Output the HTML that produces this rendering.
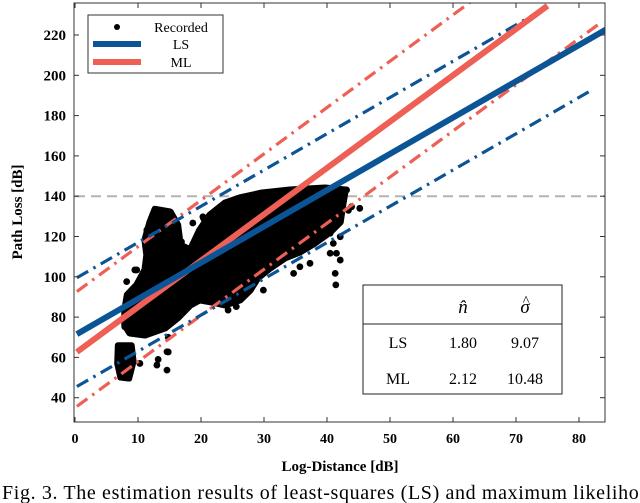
<!DOCTYPE html>
<html><head><meta charset="utf-8"><style>
html,body{margin:0;padding:0;background:#fff;}
svg{display:block;font-family:"Liberation Serif",serif;}
</style></head><body>
<svg id="chart" width="640" height="503" viewBox="0 0 640 503" xmlns="http://www.w3.org/2000/svg">
<defs><clipPath id="plotclip"><rect x="74" y="3" width="531" height="419"/></clipPath></defs>
<g id="plot" clip-path="url(#plotclip)"></g>
<g id="axes"></g>
<text x="340" y="471" text-anchor="middle" font-weight="bold" font-size="15">Log-Distance [dB]</text>
<text transform="translate(22,212) rotate(-90)" text-anchor="middle" font-weight="bold" font-size="15">Path Loss [dB]</text>
<g>
<rect x="88" y="15" width="135" height="58" fill="#fff" stroke="#333" stroke-width="1"/>
<circle cx="117" cy="27" r="3" fill="#000"/>
<text x="181" y="32" text-anchor="middle" font-size="14">Recorded</text>
<line x1="93" y1="44" x2="141" y2="44" stroke="#0b5597" stroke-width="6"/>
<text x="181" y="49" text-anchor="middle" font-size="14">LS</text>
<line x1="93" y1="62" x2="141" y2="62" stroke="#ee5f55" stroke-width="6"/>
<text x="181" y="67" text-anchor="middle" font-size="14">ML</text>
</g>
<g font-size="16">
<rect x="363" y="285" width="199" height="109" fill="#fff" stroke="#222" stroke-width="1"/>
<line x1="363" y1="324" x2="562" y2="324" stroke="#222" stroke-width="1"/>
<text x="463" y="313" text-anchor="middle" font-style="italic" font-size="19">n̂</text>
<text x="525" y="313" text-anchor="middle" font-style="italic" font-size="19">σ</text>
<text x="526" y="305" text-anchor="middle" font-size="14">^</text>
<text x="398" y="348" text-anchor="middle">LS</text>
<text x="463" y="348" text-anchor="middle">1.80</text>
<text x="525" y="348" text-anchor="middle">9.07</text>
<text x="398" y="384" text-anchor="middle">ML</text>
<text x="463" y="384" text-anchor="middle">2.12</text>
<text x="525" y="384" text-anchor="middle">10.48</text>
</g>
<text x="2" y="499" font-size="20" textLength="658" lengthAdjust="spacing">Fig. 3.  The estimation results of least-squares (LS) and maximum likelihood</text>
</svg>
<script>
const xTicks=[0,10,20,30,40,50,60,70,80];
const yTicks=[40,60,80,100,120,140,160,180,200,220];
// scatter: dense regions (polygons) and individual recorded points, data units
const coreCluster=[[12.7,133.5],[15.1,132.2],[16.3,125.7],[16.7,115.8],[18.3,113.3],[19.8,123.2],[21.4,130.6],[23.8,136.6],[26.2,139.2],[29.7,141.6],[34.1,143.1],[39.7,144.1],[42.9,143.1],[42.5,135.6],[42.1,127.2],[40.5,122.2],[38.1,116.8],[35.7,112.3],[33.3,109.3],[31,104.4],[29,99.4],[27.8,93.4],[26.2,88.5],[23.8,86],[21.7,87.5],[19.8,88.5],[18.3,86],[16.3,79.6],[14.3,74.6],[11.1,71.1],[8.7,72.1],[7.9,76.1],[7.9,83.5],[8.3,91],[9.8,95.9],[11.1,103.4],[11.4,110.8],[11.1,118.3],[11.9,127.2]];
const lowCluster=[[6.8,66],[9,66],[9.3,58],[8.6,49.5],[7.2,50],[6.7,57]];
const pointsX=[14.8,14.6,13,20.3,19.3,16.5,9.5,8.2,18.3,14.6,14.8,24.3,25.6,29.9,34.7,35.7,37.3,40.5,41.5,42.1,41.3,41.4,42.1,41,43.9,45.2,43.1,40.5,43.4,9.8,10.6,11.4,16.9,17,20.4,18.7,7.9,14.6,10.3,13.2];
const pointsY=[62.7,53.7,56.2,129.8,116.6,119.9,103.4,97.6,108.3,76.9,70,83.5,85.2,93.4,101.7,105,106.7,111.7,111.7,108.3,101.7,96,119.9,116.6,134.8,134,143.1,121.6,133,103.4,98,123.2,117.4,108,129,126.7,75.2,62.8,57,59];
// fitted lines: intercept, slope, x-extent
const lineNames=['ls-fit','ml-fit','ls-upper-bound','ls-lower-bound','ml-upper-bound','ml-lower-bound'];
const intercepts=[71,62,99,45,92,35];
const slopes=[1.80,2.30,1.80,1.80,2.30,2.29];
const xEnds=[84.3,75,75,82,75,83];
const refLevel=140;

const NS='http://www.w3.org/2000/svg';
const X=v=>75+6.3*v;
const Y=v=>397.7-(v-40)*2.015;
const plot=document.getElementById('plot');
const axes=document.getElementById('axes');
function mk(tag,attrs,parent){const e=document.createElementNS(NS,tag);for(const k in attrs)e.setAttribute(k,attrs[k]);parent.appendChild(e);return e;}

let ref=mk('line',{x1:75,x2:605,y1:Y(refLevel),y2:Y(refLevel),stroke:'#b3b3b3','stroke-width':2,'stroke-dasharray':'10,6'},plot);



const toPts=a=>a.map(p=>X(p[0])+','+Y(p[1])).join(' ');
let c1=mk('polygon',{points:toPts(coreCluster),fill:'#000',stroke:'#000','stroke-width':7,'stroke-linejoin':'round'},plot);


let c2=mk('polygon',{points:toPts(lowCluster),fill:'#000',stroke:'#000','stroke-width':6,'stroke-linejoin':'round'},plot);


pointsX.forEach((px,i)=>{
  const c=mk('circle',{cx:X(px),cy:Y(pointsY[i]),r:3.4,fill:'#000'},plot);
  
  
});

const colors=['#0b5597','#ee5f55','#0b5597','#0b5597','#ee5f55','#ee5f55'];
const order=[4,5,2,3,1,0];
order.forEach(i=>{
  const x0=0.3,x1=xEnds[i];
  const solid=i<2;
  const l=mk('line',{x1:X(x0),y1:Y(intercepts[i]+slopes[i]*x0),x2:X(x1),y2:Y(intercepts[i]+slopes[i]*x1),stroke:colors[i],'stroke-width':solid?6:3.2},plot);
  if(!solid)l.setAttribute('stroke-dasharray','13,6,2.5,6');
  
  
});

let box=mk('rect',{x:74,y:3,width:531,height:419,fill:'none',stroke:'#333','stroke-width':1},axes);


xTicks.forEach(t=>{
  const x=X(t);
  mk('line',{x1:x,x2:x,y1:422,y2:417,stroke:'#333'},axes);
  mk('line',{x1:x,x2:x,y1:3,y2:8,stroke:'#333'},axes);
  const tx=mk('text',{x:x,y:443,'text-anchor':'middle','font-weight':'bold','font-size':14},axes);
  tx.textContent=t;
  
  
});
yTicks.forEach(t=>{
  const y=Y(t);
  mk('line',{x1:74,x2:79,y1:y,y2:y,stroke:'#333'},axes);
  mk('line',{x1:605,x2:600,y1:y,y2:y,stroke:'#333'},axes);
  const ty=mk('text',{x:66,y:y+5,'text-anchor':'end','font-weight':'bold','font-size':15},axes);
  ty.textContent=t;
  
  
});
</script>
</body></html>
